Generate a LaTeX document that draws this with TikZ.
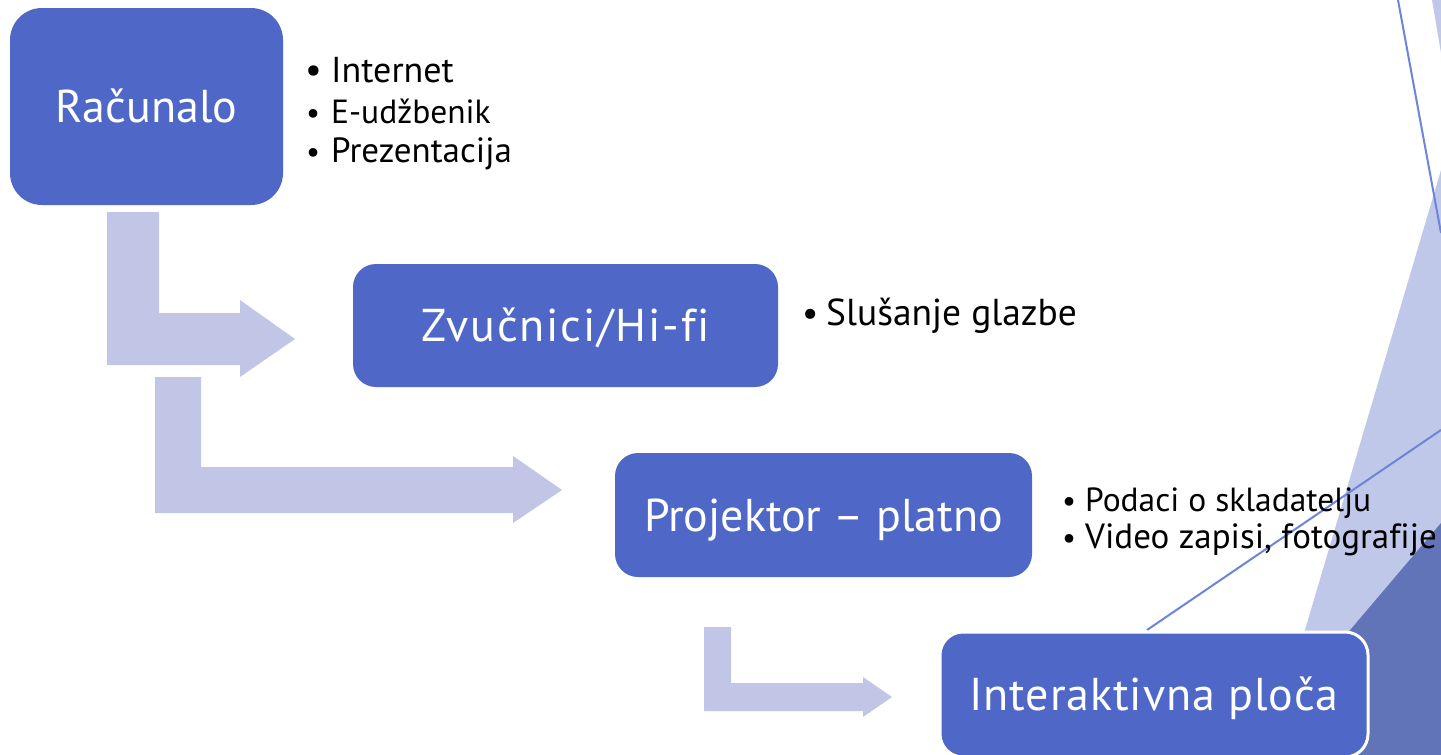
\documentclass[tikz,border=0pt]{standalone}
\usepackage{fontspec}
\setmainfont{PT Sans}[Ligatures=NoCommon]
\definecolor{boxblue}{RGB}{79,104,200}
\definecolor{arrowlight}{RGB}{193,198,231}
\definecolor{trilight}{RGB}{192,200,234}
\definecolor{tridark}{RGB}{98,116,184}
\definecolor{lineblue}{RGB}{108,132,217}
\tikzset{
  stagebox/.style={fill=boxblue, draw=none, text=white, rounded corners=#1,
    font=\fontsize{46}{50}\selectfont, text height=32pt, text depth=0pt,
    inner sep=0pt, anchor=center},
  bigarrow/.style={fill=arrowlight, draw=none},
  decoline/.style={draw=lineblue, line width=2pt},
  bul/.style={anchor=base west, inner sep=0pt, text=black},
}
\begin{document}
\begin{tikzpicture}[x=1pt,y=-1pt]
\useasboundingbox (0,0) rectangle (1441,755);
% background decorations
\fill[trilight] (1432,0) -- (1441,53) -- (1441,0) -- cycle;
\fill[trilight] (1441,170) -- (1268,755) -- (1441,755) -- cycle;
\fill[tridark] (1441,523) -- (1244,755) -- (1441,755) -- cycle;
\draw[decoline] (1398,0) -- (1441,233);
\coordinate (lineend) at (1441,430);
\coordinate (linestart) at (1147,630);
\draw[decoline] (linestart) -- (lineend);
% block arrows
\fill[bigarrow] (107,212) -- (159,212) -- (159,313) -- (240,313) -- (240,300) -- (295,339) -- (240,377) -- (240,365) -- (107,365) -- cycle;
\fill[bigarrow] (155,377) -- (201,377) -- (201,467) -- (513,467) -- (513,456) -- (562,490) -- (513,523) -- (513,513) -- (155,513) -- cycle;
\fill[bigarrow] (704,627) -- (731,627) -- (731,683) -- (863,683) -- (863,677) -- (892,697) -- (863,717) -- (863,711) -- (704,711) -- cycle;
% boxes
\node[stagebox=32pt, minimum width=273pt, minimum height=197pt] (rac) at (146.5,106.5) {Računalo};
\node[stagebox=23pt, minimum width=425pt, minimum height=123pt] (zvu) at (565.5,325.5) {\addfontfeature{LetterSpace=4}Zvučnici/Hi-fi};
\node[stagebox=23pt, minimum width=417pt, minimum height=124pt] (pro) at (823.5,515) {Projektor – platno};
\node[stagebox=23pt, minimum width=428pt, minimum height=125pt, draw=white, line width=3pt] (int) at (1154,694.5) {\addfontfeature{LetterSpace=2}Interaktivna ploča};
% bullet texts
\node[bul, font=\fontsize{37}{40}\selectfont] (b1) at (305,82) {•};
\node[bul, font=\fontsize{36}{40}\selectfont] (t1) at (331,82) {Internet};
\node[bul, font=\fontsize{31}{34}\selectfont] (b2) at (306,123) {•};
\node[bul, font=\fontsize{33.5}{36}\selectfont] (t2) at (331,123) {E-udžbenik};
\node[bul, font=\fontsize{31}{34}\selectfont] (b3) at (306,162) {•};
\node[bul, font=\fontsize{35}{36}\selectfont] (t3) at (331,162) {Prezentacija};
\node[bul, font=\fontsize{36}{40}\selectfont] (b4) at (802,325) {•};
\node[bul, font=\fontsize{37.5}{40}\selectfont] (t4) at (826,325) {Slušanje glazbe};
\node[bul, font=\fontsize{31}{34}\selectfont] (b5) at (1062,511) {•};
\node[bul, font=\fontsize{33.5}{36}\selectfont] (t5) at (1085,511) {Podaci o skladatelju};
\node[bul, font=\fontsize{31}{34}\selectfont] (b6) at (1062,548) {•};
\node[bul, font=\fontsize{35}{36}\selectfont] (t6) at (1085,548) {Video zapisi, fotografije};
\end{tikzpicture}
\end{document}
